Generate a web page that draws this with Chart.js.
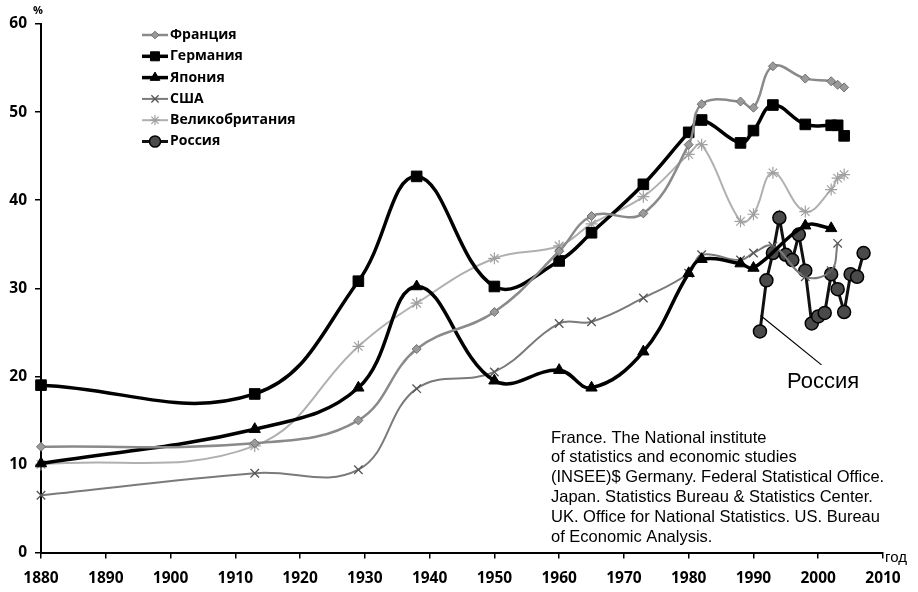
<!DOCTYPE html>
<html><head><meta charset="utf-8">
<script src="https://cdn.jsdelivr.net/npm/chart.js@4.4.1/dist/chart.umd.min.js"></script>
<style>html,body{margin:0;padding:0;background:#fff;}#wrap{width:918px;height:592px;position:relative;}</style>
</head><body><div id="wrap"><canvas id="c" width="918" height="592"></canvas></div>
<script>
// ---- data ----
const seriesNames = ['Франция','Германия','Япония','США','Великобритания','Россия'];
const xTickYears = [1880,1890,1900,1910,1920,1930,1940,1950,1960,1970,1980,1990,2000,2010];
const yTickValues = [0,10,20,30,40,50,60];

const franceYears  = [1880,1913,1929,1938,1950,1960,1965,1973,1980,1982,1988,1990,1993,1998,2002,2003,2004];
const franceValues = [12.0,12.4,15.0,23.1,27.3,34.2,38.2,38.5,46.3,50.9,51.2,50.5,55.2,53.8,53.5,53.1,52.8];

const germanyYears  = [1880,1913,1929,1938,1950,1960,1965,1973,1980,1982,1988,1990,1993,1998,2002,2003,2004];
const germanyValues = [19.0,18.0,30.8,42.7,30.2,33.1,36.3,41.8,47.7,49.1,46.5,47.9,50.8,48.6,48.5,48.5,47.3];

const japanYears  = [1880,1913,1929,1938,1950,1960,1965,1973,1980,1982,1988,1990,1998,2002];
const japanValues = [10.1,14.0,18.7,30.2,19.5,20.7,18.7,22.8,31.7,33.3,32.8,32.3,37.1,36.8];

const usaYears  = [1880,1913,1929,1938,1950,1960,1965,1973,1980,1982,1988,1990,1993,1998,2002,2003];
const usaValues = [6.5,9.0,9.4,18.6,20.5,26.0,26.2,28.9,31.7,33.8,33.2,34.0,34.8,31.3,32.0,35.1];

const ukYears  = [1880,1913,1929,1938,1950,1960,1965,1973,1980,1982,1988,1990,1993,1998,2002,2003,2004];
const ukValues = [10.0,12.1,23.4,28.3,33.4,34.8,37.3,40.4,45.2,46.3,37.6,38.4,43.1,38.7,41.2,42.5,42.9];

const russiaYears  = [1991,1992,1993,1994,1995,1996,1997,1998,1999,2000,2001,2002,2003,2004,2005,2006,2007];
const russiaValues = [25.1,30.9,34.0,38.0,33.8,33.2,36.1,32.0,26.0,26.8,27.2,31.6,29.9,27.3,31.6,31.3,34.0];

const sourceLines = [
  'France. The National institute',
  'of statistics and economic studies',
  '(INSEE)$ Germany. Federal Statistical Office.',
  'Japan. Statistics Bureau & Statistics Center.',
  'UK. Office for National Statistics. US. Bureau',
  'of Economic Analysis.'
];
const russiaLabel = 'Россия';
const leaderFrom = [1991.1, 26.9];
const leaderTo   = [2000.5, 21.3];

// ---- build ----
const pts = (xs, ys) => xs.map((x, i) => ({x, y: ys[i]}));
const BOLD = '"Open Sans", "DejaVu Sans", sans-serif';

const datasets = [
  {label: seriesNames[0], data: pts(franceYears, franceValues), borderColor:'#8a8a8a', borderWidth:2.5,
   pointStyle:'rectRot', pointRadius:4.5, pointBackgroundColor:'#9a9a9a', pointBorderColor:'#6e6e6e', pointBorderWidth:1, tension:0.4},
  {label: seriesNames[1], data: pts(germanyYears, germanyValues), borderColor:'#000', borderWidth:3.5,
   pointStyle:'rect', pointRadius:7.5, pointBackgroundColor:'#000', pointBorderColor:'#000', pointBorderWidth:1, tension:0.4},
  {label: seriesNames[2], data: pts(japanYears, japanValues), borderColor:'#000', borderWidth:3.5,
   pointStyle:'triangle', pointRadius:6.5, pointBackgroundColor:'#000', pointBorderColor:'#000', pointBorderWidth:1, tension:0.4},
  {label: seriesNames[3], data: pts(usaYears, usaValues), borderColor:'#7a7a7a', borderWidth:2,
   pointStyle:'crossRot', pointRadius:6, pointBackgroundColor:'#555', pointBorderColor:'#555', pointBorderWidth:1.3, tension:0.4},
  {label: seriesNames[4], data: pts(ukYears, ukValues), borderColor:'#b0b0b0', borderWidth:2,
   pointStyle:'star', pointRadius:6, pointBackgroundColor:'#a0a0a0', pointBorderColor:'#a0a0a0', pointBorderWidth:1.2, tension:0.4},
  {label: seriesNames[5], data: pts(russiaYears, russiaValues), borderColor:'#111', borderWidth:3,
   pointStyle:'circle', pointRadius:6.5, pointBackgroundColor:'#4a4a4a', pointBorderColor:'#000', pointBorderWidth:1.5, tension:0}
];
datasets.forEach(d => { d.clip = false; d.fill = false; d.pointHoverRadius = d.pointRadius; });

const extras = {
  id: 'extras',
  afterDatasetsDraw(chart) {
    const ctx = chart.ctx, xs = chart.scales.x, ys = chart.scales.y;
    ctx.save();
    // leader line + label for Russia
    ctx.strokeStyle = '#000'; ctx.lineWidth = 1.2;
    ctx.beginPath();
    ctx.moveTo(xs.getPixelForValue(leaderFrom[0]), ys.getPixelForValue(leaderFrom[1]));
    ctx.lineTo(xs.getPixelForValue(leaderTo[0]), ys.getPixelForValue(leaderTo[1]));
    ctx.stroke();
    ctx.fillStyle = '#000';
    ctx.font = '22px "Liberation Sans", Arial, sans-serif';
    ctx.textAlign = 'left'; ctx.textBaseline = 'alphabetic';
    ctx.fillText(russiaLabel, 787, 388);
    // source text
    ctx.font = '16.5px "Liberation Sans", Arial, sans-serif';
    ctx.textBaseline = 'middle';
    sourceLines.forEach((s, i) => ctx.fillText(s, 551, 438 + i * 19.8));
    // axis captions
    ctx.font = 'bold 11px ' + BOLD;
    ctx.textAlign = 'center';
    ctx.fillText('%', 38, 11);
    ctx.font = '15px "Liberation Sans", Arial, sans-serif';
    ctx.textAlign = 'left';
    ctx.fillText('год', 885, 558);
    // legend
    const lx0 = 142, lx1 = 168, ly0 = 35, dy = 21.3;
    chart.data.datasets.forEach((d, i) => {
      const y = ly0 + i * dy;
      ctx.strokeStyle = d.borderColor; ctx.lineWidth = d.borderWidth;
      ctx.beginPath(); ctx.moveTo(lx0, y); ctx.lineTo(lx1, y); ctx.stroke();
      ctx.fillStyle = d.pointBackgroundColor; ctx.strokeStyle = d.pointBorderColor; ctx.lineWidth = d.pointBorderWidth;
      Chart.helpers.drawPoint(ctx, {pointStyle: d.pointStyle, radius: d.pointRadius * 0.85, rotation: 0, borderWidth: d.pointBorderWidth}, (lx0 + lx1) / 2, y);
      ctx.fillStyle = '#000';
      ctx.font = 'bold 14px ' + BOLD;
      ctx.textAlign = 'left'; ctx.textBaseline = 'middle';
      ctx.fillText(d.label, 170, y);
    });
    ctx.restore();
  }
};

new Chart(document.getElementById('c'), {
  type: 'line',
  data: {datasets},
  plugins: [extras],
  options: {
    responsive: false, animation: false, devicePixelRatio: 1,
    layout: {padding: {top: 24, right: 35, left: 0, bottom: 0}},
    plugins: {legend: {display: false}, tooltip: {enabled: false}},
    scales: {
      x: {type: 'linear', min: 1880, max: 2010,
        afterBuildTicks: s => { s.ticks = xTickYears.map(v => ({value: v})); },
        ticks: {color: '#000', font: {family: BOLD, weight: 'bold', size: 15.5}, padding: 11, maxRotation: 0, autoSkip: false, callback: v => String(v)},
        grid: {display: true, drawOnChartArea: false, drawTicks: true, tickLength: 6, color: '#000', lineWidth: 1.5},
        border: {display: true, color: '#000', width: 2},
        afterFit: s => { s.height = 39.5; }
      },
      y: {min: 0, max: 60,
        afterBuildTicks: s => { s.ticks = yTickValues.map(v => ({value: v})); },
        ticks: {color: '#000', font: {family: BOLD, weight: 'bold', size: 15.5}, padding: 8, callback: v => String(v)},
        grid: {display: true, drawOnChartArea: false, drawTicks: true, tickLength: 6, color: '#000', lineWidth: 1.5},
        border: {display: true, color: '#000', width: 2},
        afterFit: s => { s.width = 41; }
      }
    }
  }
});
</script></body></html>
